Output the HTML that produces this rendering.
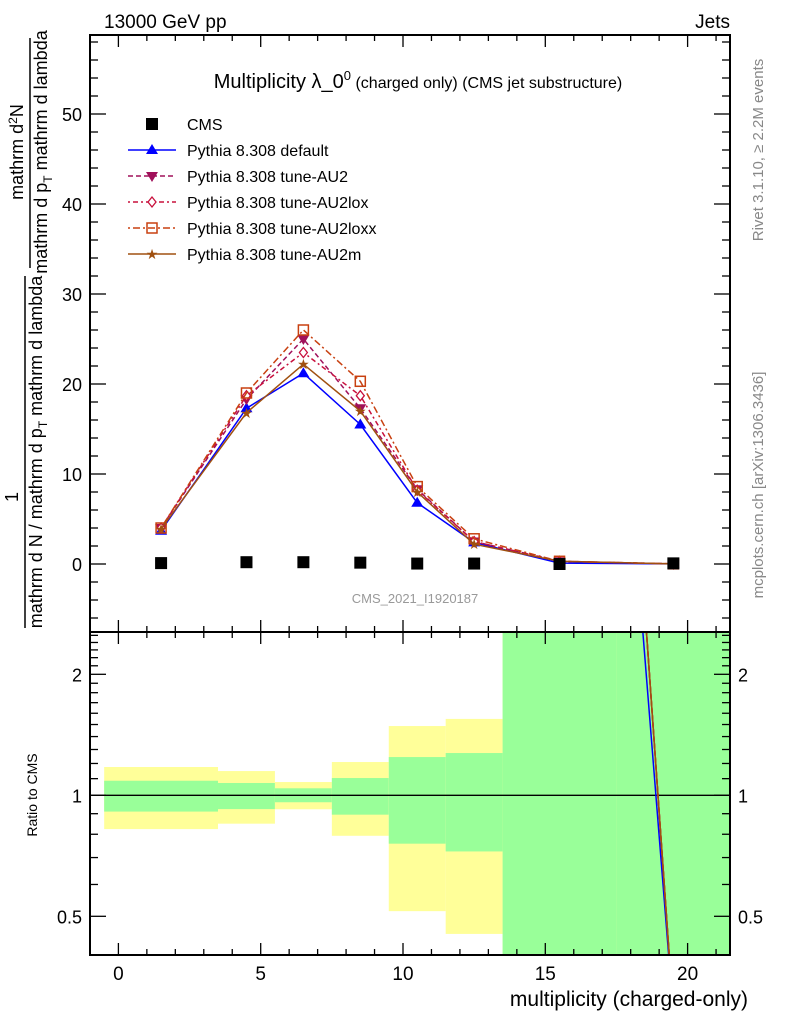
<!DOCTYPE html>
<html><head><meta charset="utf-8"><style>
body{margin:0;background:#fff;}
svg{display:block;font-family:"Liberation Sans",sans-serif;}
</style></head><body>
<svg id="chart" width="786" height="1024" viewBox="0 0 786 1024" xmlns="http://www.w3.org/2000/svg">
<defs>
<clipPath id="clipMain"><rect x="90" y="35" width="640" height="597"/></clipPath>
<clipPath id="clipRatio"><rect x="90" y="632" width="640" height="323"/></clipPath>
</defs>
<g id="bands" clip-path="url(#clipRatio)"></g>
<g id="ratioLines" clip-path="url(#clipRatio)"></g>
<g id="mainSeries" clip-path="url(#clipMain)"></g>
<g id="axes"></g>
<rect x="90" y="35" width="640" height="597" fill="none" stroke="#000" stroke-width="2"/>
<rect x="90" y="632" width="640" height="323" fill="none" stroke="#000" stroke-width="2"/>
<text x="104" y="28" font-size="19">13000 GeV pp</text>
<text x="730" y="28" font-size="19" text-anchor="end">Jets</text>
<text x="418" y="88" font-size="20" text-anchor="middle">Multiplicity λ_0<tspan dy="-8" font-size="13">0</tspan><tspan dy="8" font-size="16"> (charged only) (CMS jet substructure)</tspan></text>
<text x="415" y="603" font-size="13" fill="#999" text-anchor="middle">CMS_2021_I1920187</text>
<text transform="translate(763,150) rotate(-90)" font-size="15" fill="#888" text-anchor="middle">Rivet 3.1.10, ≥ 2.2M events</text>
<text transform="translate(763,485) rotate(-90)" font-size="15" fill="#888" text-anchor="middle">mcplots.cern.ch [arXiv:1306.3436]</text>
<g font-size="18">
<text transform="translate(23,152) rotate(-90)" text-anchor="middle">mathrm d<tspan dy="-6" font-size="12">2</tspan><tspan dy="6">N</tspan></text>
<line x1="30" y1="38" x2="30" y2="268" stroke="#000" stroke-width="1.5"/>
<text transform="translate(47,152) rotate(-90)" text-anchor="middle">mathrm d p<tspan dy="5" font-size="12">T</tspan><tspan dy="-5"> mathrm d lambda</tspan></text>
<text transform="translate(18,497) rotate(-90)" text-anchor="middle">1</text>
<line x1="25" y1="276" x2="25" y2="628" stroke="#000" stroke-width="1.5"/>
<text transform="translate(42,452) rotate(-90)" text-anchor="middle">mathrm d N / mathrm d p<tspan dy="5" font-size="12">T</tspan><tspan dy="-5"> mathrm d lambda</tspan></text>
</g>
<text transform="translate(37,795) rotate(-90)" font-size="14" text-anchor="middle">Ratio to CMS</text>
<text x="748" y="1006" font-size="21" text-anchor="end">multiplicity (charged-only)</text>
<g id="legend"></g>
</svg>
<script>
const binLo=[-0.5,3.5,5.5,7.5,9.5,11.5,13.5,17.5];
const binHi=[3.5,5.5,7.5,9.5,11.5,13.5,17.5,21.5];
const centers=[1.5,4.5,6.5,8.5,10.5,12.5,15.5,19.5];
const cmsVals=[0.1,0.2,0.2,0.15,0.05,0.05,0.0001,0.07];
const defVals=[3.7,17.3,21.2,15.5,6.8,2.4,0.1,0.02];
const au2Vals=[4.0,18.3,25.0,17.3,8.3,2.5,0.3,0.02];
const au2loxVals=[4.0,18.7,23.5,18.7,8.2,2.5,0.3,0.02];
const au2loxxVals=[4.0,19.0,26.0,20.3,8.6,2.8,0.3,0.02];
const au2mVals=[3.9,16.8,22.2,17.0,8.0,2.2,0.3,0.02];
const totUp=[1.176,1.149,1.079,1.21,1.487,1.549,10,10];
const totDn=[0.824,0.85,0.923,0.793,0.515,0.452,0.1,0.1];
const statUp=[1.087,1.073,1.041,1.104,1.245,1.274,10,10];
const statDn=[0.911,0.924,0.961,0.895,0.758,0.725,0.1,0.1];
const mainTicks=[0,10,20,30,40,50];
const ratioTicks=[0.5,1,2];
const xTicks=[0,5,10,15,20];

var NS="http://www.w3.org/2000/svg";
function X(v){return 118.4+v*28.46;}
function Y(v){return 564-v*9;}
function R(r){return 795.3-121*Math.log2(r);}
function mk(tag,attrs,parent){var e=document.createElementNS(NS,tag);for(var k in attrs)e.setAttribute(k,attrs[k]);parent.appendChild(e);return e;}

var bands=document.getElementById('bands');
for(var i=0;i<binLo.length;i++){
 var yb=mk('rect',{x:X(binLo[i]),y:R(totUp[i]),width:X(binHi[i])-X(binLo[i]),height:R(totDn[i])-R(totUp[i]),fill:'#ffff99'},bands);
 
 
 var gb=mk('rect',{x:X(binLo[i]),y:R(statUp[i]),width:X(binHi[i])-X(binLo[i]),height:R(statDn[i])-R(statUp[i]),fill:'#99ff99'},bands);
 
 
}
var refl=mk('line',{x1:90,x2:730,y1:R(1),y2:R(1),stroke:'#000','stroke-width':1.3},bands);



var series=[
 {name:'Pythia 8.308 default',vals:defVals,color:'#0000ff',dash:'none',mark:'tri'},
 {name:'Pythia 8.308 tune-AU2',vals:au2Vals,color:'#a0105a',dash:'5,3',mark:'itri'},
 {name:'Pythia 8.308 tune-AU2lox',vals:au2loxVals,color:'#c8103c',dash:'2,3,5,3',mark:'diam'},
 {name:'Pythia 8.308 tune-AU2loxx',vals:au2loxxVals,color:'#c84010',dash:'2,3,7,3',mark:'sq'},
 {name:'Pythia 8.308 tune-AU2m',vals:au2mVals,color:'#a05010',dash:'none',mark:'star'}
];
function marker(type,x,y,c,p){
 var e;
 if(type==='tri')e=mk('polygon',{points:x+','+(y-6)+' '+(x-6)+','+(y+4)+' '+(x+6)+','+(y+4),fill:c},p);
 else if(type==='itri')e=mk('polygon',{points:x+','+(y+6)+' '+(x-6)+','+(y-4)+' '+(x+6)+','+(y-4),fill:c},p);
 else if(type==='diam')e=mk('polygon',{points:x+','+(y-5)+' '+(x-4)+','+y+' '+x+','+(y+5)+' '+(x+4)+','+y,fill:'#fff',stroke:c,'stroke-width':1.3},p);
 else if(type==='sq')e=mk('rect',{x:x-5,y:y-5,width:10,height:10,fill:'none',stroke:c,'stroke-width':1.5},p);
 else if(type==='star'){e=mk('text',{x:x,y:y+5,'font-size':14,fill:c,'text-anchor':'middle'},p);e.textContent='★';}
 else e=mk('rect',{x:x-6,y:y-6,width:12,height:12,fill:c},p);
 return e;
}
var ms=document.getElementById('mainSeries');
var rl=document.getElementById('ratioLines');
series.forEach(function(s){
 var pts=centers.map(function(c,i){return X(c)+','+Y(s.vals[i]);}).join(' ');
 var l=mk('polyline',{points:pts,fill:'none',stroke:s.color,'stroke-width':1.5,'stroke-dasharray':s.dash},ms);
 
 
 centers.forEach(function(c,i){var m=marker(s.mark,X(c),Y(s.vals[i]),s.color,ms);
  
  });
 var rp=centers.map(function(c,i){return X(c)+','+R(s.vals[i]/cmsVals[i]);}).join(' ');
 var r=mk('polyline',{points:rp,fill:'none',stroke:s.color,'stroke-width':1.5},rl);
 
 
});
centers.forEach(function(c,i){var m=mk('rect',{x:X(c)-6,y:Y(cmsVals[i])-6,width:12,height:12,fill:'#000'},ms);
 
 });

var lg=document.getElementById('legend');
var rows=[{name:'CMS',color:'#000',mark:'cms',dash:null}].concat(series);
rows.forEach(function(s,i){
 var y=124+i*26;
 var g=mk('g',{},lg);
 
 
 if(s.dash!==null)mk('line',{x1:128,x2:176,y1:y,y2:y,stroke:s.color,'stroke-width':1.5,'stroke-dasharray':s.dash},g);
 marker(s.mark,152,y,s.color,g);
 var t=mk('text',{x:187,y:y+6,'font-size':16},g);t.textContent=s.name;
});

var ax=document.getElementById('axes');
function tick(x1,y1,x2,y2){mk('line',{x1:x1,y1:y1,x2:x2,y2:y2,stroke:'#000','stroke-width':1.3},ax);}
function lab(x,y,t,anc,fs){var e=mk('text',{x:x,y:y,'font-size':fs||18,'text-anchor':anc},ax);e.textContent=t;
 
 }
for(var v=-6;v<=58;v+=2){var yy=Y(v);if(yy<36||yy>631)continue;var L=v%10===0?16:8;tick(90,yy,90+L,yy);tick(730,yy,730-L,yy);}
mainTicks.forEach(function(v){lab(82,Y(v)+7,String(v),'end');});
var rmin=[0.4,0.5,0.6,0.7,0.8,0.9,1,1.1,1.2,1.3,1.4,1.5,1.6,1.7,1.8,1.9,2,2.1,2.2,2.3,2.4,2.5];
rmin.forEach(function(v){var y=R(v);var L=(v===0.5||v===1||v===2)?16:8;tick(90,y,90+L,y);tick(730,y,730-L,y);});
ratioTicks.forEach(function(v){lab(82,R(v)+7,String(v),'end');lab(738,R(v)+7,String(v),'start');});
for(var w=-1;w<=21;w++){var x=X(w);if(x<91||x>729)continue;var L2=w%5===0?12:6;
 tick(x,955,x,955-L2);tick(x,632,x,632+L2);tick(x,632,x,632-L2);tick(x,35,x,35+L2);}
xTicks.forEach(function(v){lab(X(v),980,String(v),'middle',19);});
</script>
</body></html>
